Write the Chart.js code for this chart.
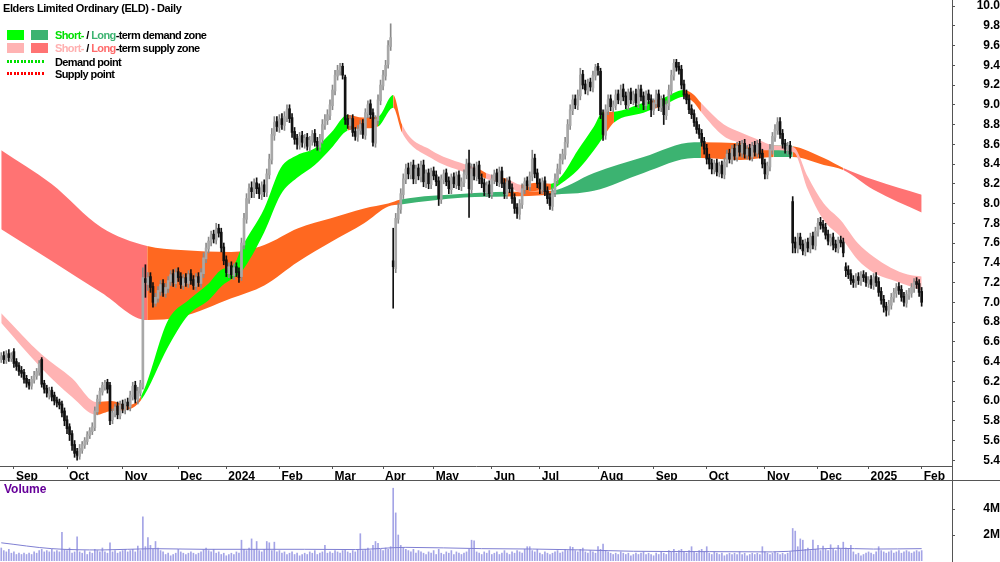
<!DOCTYPE html>
<html>
<head>
<meta charset="utf-8">
<script src="https://cdn.jsdelivr.net/npm/chart.js@4.4.1/dist/chart.umd.min.js"></script>
<style>
  body { margin:0; background:#fff; width:1000px; height:562px; overflow:hidden; position:relative;
         font-family:"Liberation Sans", Arial, sans-serif; }
  canvas { position:absolute; left:0; }
  #price { top:0; }
  #vol { top:481px; }
  .txt { position:absolute; font-weight:bold; white-space:nowrap; line-height:12px; color:#000; }
  .lg { font-size:11px; letter-spacing:-0.6px; }
  .sw { position:absolute; width:17px; height:10px; }
  .dots { position:absolute; width:38px; height:3px; }
</style>
</head>
<body>
<canvas id="price" width="1000" height="481"></canvas>
<canvas id="vol" width="1000" height="81"></canvas>

<div class="txt" style="left:3px;top:2px;font-size:11px;letter-spacing:-0.4px">Elders Limited Ordinary (ELD) - Daily</div>

<div class="sw" style="left:7px;top:30px;background:#00ff00"></div>
<div class="sw" style="left:31px;top:30px;background:#3cb371"></div>
<div class="txt lg" style="left:55px;top:29px"><span style="color:#00e000">Short-</span> / <span style="color:#3cb371">Long</span>-term demand zone</div>

<div class="sw" style="left:7px;top:43px;background:#ffb3b3"></div>
<div class="sw" style="left:31px;top:43px;background:#ff7373"></div>
<div class="txt lg" style="left:55px;top:42px"><span style="color:#ffb0b0">Short-</span> / <span style="color:#ff6a6a">Long</span>-term supply zone</div>

<div class="dots" style="left:7px;top:60px;background:repeating-linear-gradient(to right,#00e000 0 2px,transparent 2px 3.5px)"></div>
<div class="txt lg" style="left:55px;top:56px">Demand point</div>
<div class="dots" style="left:7px;top:72px;background:repeating-linear-gradient(to right,#ff0000 0 2px,transparent 2px 3.5px)"></div>
<div class="txt lg" style="left:55px;top:68px">Supply point</div>

<div class="txt" style="left:4px;top:483px;font-size:12px;color:#660099">Volume</div>

<script>
// === Datas (um candle por pregão, 25 ago 2023 .. 3 fev 2025) ===
var monthStarts = [5, 26, 48, 70, 89, 110, 131, 151, 171, 194, 213, 236, 258, 279, 302, 323, 343, 364];
var monthLabels = ['Sep','Oct','Nov','Dec','2024','Feb','Mar','Apr','May','Jun','Jul','Aug','Sep','Oct','Nov','Dec','2025','Feb'];

var priceTicks = [5.4,5.6,5.8,6.0,6.2,6.4,6.6,6.8,7.0,7.2,7.4,7.6,7.8,8.0,8.2,8.4,8.6,8.8,9.0,9.2,9.4,9.6,9.8,10.0];
var volTicks = [2, 4];

// === OHLC ===
var opens = [
  6.42,6.46,6.41,6.48,6.43,6.50,6.40,6.36,6.31,6.29,
  6.23,6.19,6.15,6.21,6.25,6.29,6.42,6.18,6.13,6.06,
  6.11,6.06,6.01,5.99,5.97,5.90,5.81,5.74,5.67,5.56,
  5.49,5.44,5.50,5.55,5.59,5.65,5.69,5.73,5.89,6.00,
  6.09,6.14,6.19,6.16,5.81,5.87,5.95,5.85,5.97,5.91,
  5.99,5.94,6.04,6.16,6.01,6.08,6.14,7.24,7.18,7.26,
  7.16,6.99,7.04,7.11,7.19,7.09,7.14,7.21,7.29,7.19,
  7.31,7.26,7.17,7.25,7.19,7.29,7.23,7.16,7.26,7.19,
  7.29,7.44,7.54,7.61,7.69,7.63,7.75,7.71,7.56,7.43,
  7.29,7.37,7.27,7.36,7.31,7.26,7.58,7.84,8.04,8.16,
  8.11,8.21,8.16,8.09,8.19,8.11,8.29,8.44,8.69,8.83,
  8.77,8.86,8.79,8.87,8.96,8.87,8.73,8.66,8.59,8.69,
  8.61,8.67,8.57,8.63,8.71,8.63,8.57,8.65,8.79,8.84,
  8.89,8.99,9.14,9.29,9.34,9.39,9.28,8.86,8.79,8.86,
  8.73,8.67,8.74,8.81,8.69,8.91,9.01,8.92,8.61,8.84,
  9.04,9.19,9.29,9.41,9.59,7.42,7.34,7.84,7.94,8.09,
  8.24,8.36,8.29,8.39,8.24,8.36,8.27,8.39,8.21,8.31,
  8.19,8.33,8.29,8.23,8.04,8.24,8.31,8.23,8.14,8.27,
  8.19,8.29,8.17,8.21,8.29,8.41,8.14,8.36,8.27,8.39,
  8.26,8.21,8.11,8.19,8.09,8.24,8.31,8.21,8.33,8.21,
  8.09,8.23,8.16,8.06,7.96,7.89,7.99,8.14,8.23,8.17,
  8.27,8.46,8.31,8.21,8.14,8.23,8.13,8.06,7.97,8.11,
  8.24,8.34,8.44,8.49,8.61,8.79,8.94,9.06,8.99,9.09,
  9.31,9.21,9.14,9.23,9.17,9.29,9.39,9.34,8.91,8.69,
  8.94,9.06,8.97,8.99,9.11,9.04,9.16,9.09,8.99,9.13,
  9.04,9.11,9.01,9.16,9.09,8.99,9.11,9.06,8.94,9.01,
  9.11,8.97,9.06,8.89,8.99,9.14,9.29,9.43,9.39,9.36,
  9.21,9.11,9.06,8.96,8.91,8.83,8.76,8.71,8.63,8.56,
  8.46,8.41,8.34,8.41,8.31,8.39,8.29,8.41,8.51,8.44,
  8.56,8.47,8.59,8.51,8.61,8.49,8.56,8.47,8.59,8.51,
  8.61,8.51,8.41,8.29,8.37,8.54,8.67,8.74,8.83,8.71,
  8.61,8.54,8.59,8.02,7.61,7.54,7.66,7.59,7.51,7.61,
  7.54,7.67,7.57,7.71,7.81,7.79,7.76,7.69,7.61,7.66,
  7.59,7.54,7.63,7.61,7.36,7.33,7.29,7.23,7.19,7.26,
  7.21,7.28,7.26,7.19,7.23,7.17,7.26,7.21,7.11,7.03,
  6.96,6.91,6.97,7.04,7.09,7.16,7.13,7.06,6.99,7.07,
  7.09,7.14,7.21,7.19,7.11
];
var highs = [
  6.49,6.50,6.51,6.52,6.49,6.53,6.43,6.39,6.35,6.32,
  6.26,6.22,6.25,6.30,6.33,6.41,6.44,6.21,6.16,6.14,
  6.14,6.09,6.04,6.02,6.00,5.93,5.85,5.77,5.70,5.60,
  5.52,5.56,5.59,5.63,5.69,5.73,5.78,5.94,6.06,6.13,
  6.19,6.21,6.22,6.19,5.92,5.97,5.99,6.00,6.01,6.02,
  6.03,6.10,6.19,6.20,6.14,6.21,7.35,7.38,7.30,7.30,
  7.20,7.09,7.16,7.22,7.23,7.19,7.26,7.32,7.33,7.34,
  7.35,7.30,7.28,7.29,7.32,7.33,7.27,7.29,7.30,7.34,
  7.50,7.60,7.66,7.72,7.73,7.80,7.79,7.75,7.60,7.47,
  7.40,7.41,7.39,7.40,7.35,7.65,7.90,8.10,8.20,8.22,
  8.25,8.26,8.20,8.22,8.24,8.35,8.50,8.76,8.88,8.88,
  8.90,8.91,8.93,9.00,9.00,8.91,8.77,8.70,8.72,8.73,
  8.70,8.71,8.68,8.74,8.75,8.67,8.70,8.85,8.90,8.95,
  9.05,9.20,9.35,9.40,9.42,9.42,9.30,8.90,8.89,8.90,
  8.77,8.79,8.84,8.85,8.96,9.04,9.05,8.96,8.89,9.10,
  9.25,9.35,9.45,9.65,9.82,7.75,7.90,8.00,8.15,8.30,
  8.40,8.41,8.42,8.44,8.39,8.40,8.43,8.44,8.34,8.35,
  8.36,8.37,8.33,8.27,8.29,8.34,8.35,8.27,8.30,8.31,
  8.32,8.33,8.26,8.34,8.45,8.54,8.40,8.40,8.42,8.43,
  8.30,8.25,8.22,8.23,8.29,8.34,8.35,8.37,8.37,8.25,
  8.26,8.27,8.20,8.10,8.00,8.04,8.20,8.26,8.27,8.32,
  8.54,8.50,8.35,8.25,8.26,8.27,8.17,8.10,8.16,8.30,
  8.40,8.50,8.55,8.67,8.85,9.00,9.10,9.10,9.15,9.37,
  9.35,9.25,9.26,9.27,9.34,9.41,9.42,9.37,8.95,9.00,
  9.10,9.10,9.04,9.15,9.15,9.20,9.21,9.13,9.16,9.17,
  9.14,9.16,9.20,9.20,9.13,9.14,9.15,9.10,9.06,9.15,
  9.15,9.09,9.10,9.04,9.20,9.35,9.46,9.46,9.43,9.40,
  9.25,9.15,9.10,9.00,8.95,8.87,8.80,8.75,8.67,8.60,
  8.50,8.45,8.44,8.45,8.42,8.43,8.46,8.54,8.55,8.59,
  8.60,8.62,8.63,8.64,8.65,8.59,8.60,8.62,8.63,8.64,
  8.65,8.55,8.45,8.42,8.60,8.72,8.80,8.87,8.87,8.75,
  8.65,8.62,8.63,8.07,7.66,7.70,7.70,7.63,7.64,7.65,
  7.70,7.71,7.76,7.85,7.86,7.83,7.80,7.73,7.69,7.70,
  7.63,7.66,7.67,7.65,7.40,7.37,7.33,7.27,7.29,7.30,
  7.31,7.32,7.30,7.26,7.27,7.29,7.30,7.25,7.15,7.07,
  7.00,7.02,7.09,7.14,7.19,7.20,7.17,7.10,7.12,7.14,
  7.19,7.24,7.25,7.23,7.15
];
var lows = [
  6.39,6.38,6.38,6.40,6.40,6.34,6.31,6.26,6.24,6.18,
  6.14,6.12,6.12,6.18,6.22,6.26,6.14,6.08,6.04,6.02,
  6.00,5.96,5.94,5.92,5.84,5.75,5.67,5.60,5.50,5.43,
  5.40,5.41,5.47,5.52,5.56,5.62,5.66,5.70,5.86,5.97,
  6.06,6.11,6.08,5.76,5.77,5.84,5.82,5.82,5.88,5.87,
  5.91,5.90,6.01,5.98,5.97,6.05,6.12,7.05,7.12,7.10,
  6.95,6.96,7.00,7.07,7.06,7.05,7.10,7.17,7.16,7.15,
  7.21,7.14,7.13,7.16,7.15,7.18,7.13,7.12,7.16,7.15,
  7.25,7.40,7.50,7.57,7.60,7.59,7.66,7.51,7.38,7.26,
  7.25,7.24,7.23,7.26,7.20,7.22,7.54,7.80,8.00,8.06,
  8.06,8.10,8.05,8.04,8.07,8.07,8.25,8.40,8.64,8.73,
  8.72,8.75,8.74,8.83,8.82,8.67,8.60,8.55,8.55,8.57,
  8.56,8.54,8.53,8.59,8.58,8.54,8.53,8.61,8.75,8.80,
  8.85,8.95,9.10,9.25,9.30,9.26,8.80,8.76,8.75,8.68,
  8.64,8.63,8.70,8.66,8.65,8.87,8.86,8.58,8.57,8.80,
  9.00,9.15,9.25,9.37,9.55,6.94,7.30,7.80,7.90,8.05,
  8.20,8.25,8.25,8.20,8.20,8.24,8.22,8.17,8.16,8.15,
  8.15,8.24,8.18,7.98,8.00,8.20,8.18,8.10,8.10,8.16,
  8.15,8.14,8.13,8.17,8.25,7.86,8.10,8.24,8.23,8.20,
  8.16,8.08,8.07,8.06,8.05,8.20,8.18,8.17,8.16,8.05,
  8.05,8.11,8.00,7.90,7.85,7.84,7.95,8.10,8.14,8.13,
  8.23,8.26,8.16,8.10,8.10,8.08,8.00,7.94,7.93,8.07,
  8.20,8.30,8.40,8.45,8.57,8.75,8.90,8.96,8.95,9.05,
  9.16,9.11,9.10,9.14,9.13,9.25,9.30,8.86,8.64,8.65,
  8.90,8.94,8.93,8.95,9.01,9.00,9.04,8.96,8.95,9.01,
  9.00,8.98,8.97,9.04,8.95,8.95,9.01,8.88,8.90,8.97,
  8.94,8.93,8.80,8.85,8.95,9.10,9.25,9.34,9.31,9.16,
  9.06,9.01,8.91,8.86,8.78,8.71,8.66,8.58,8.50,8.40,
  8.35,8.30,8.30,8.28,8.27,8.26,8.25,8.37,8.41,8.40,
  8.44,8.43,8.48,8.47,8.46,8.45,8.44,8.43,8.48,8.47,
  8.46,8.36,8.25,8.25,8.33,8.50,8.63,8.70,8.66,8.56,
  8.51,8.50,8.46,7.50,7.50,7.50,7.54,7.48,7.47,7.51,
  7.50,7.54,7.53,7.67,7.74,7.71,7.64,7.58,7.57,7.53,
  7.51,7.50,7.56,7.46,7.26,7.24,7.18,7.15,7.15,7.18,
  7.17,7.21,7.16,7.15,7.14,7.13,7.16,7.06,6.98,6.90,
  6.86,6.87,6.93,7.00,7.05,7.08,7.01,6.96,6.95,7.03,
  7.05,7.10,7.14,7.06,6.96
];
var closes = [
  6.45,6.42,6.47,6.44,6.46,6.38,6.35,6.30,6.28,6.22,
  6.18,6.16,6.22,6.26,6.30,6.38,6.17,6.12,6.08,6.10,
  6.04,6.00,5.98,5.96,5.88,5.80,5.72,5.66,5.55,5.47,
  5.45,5.52,5.56,5.60,5.66,5.70,5.74,5.90,6.02,6.10,
  6.16,6.18,6.12,5.80,5.88,5.94,5.86,5.96,5.92,5.98,
  5.95,6.06,6.15,6.02,6.10,6.18,7.25,7.20,7.25,7.15,
  7.00,7.05,7.12,7.18,7.10,7.15,7.22,7.28,7.20,7.30,
  7.25,7.18,7.24,7.20,7.28,7.22,7.17,7.25,7.20,7.30,
  7.45,7.55,7.62,7.68,7.64,7.74,7.70,7.55,7.42,7.30,
  7.36,7.28,7.35,7.30,7.25,7.60,7.85,8.05,8.15,8.12,
  8.20,8.15,8.10,8.18,8.12,8.30,8.45,8.70,8.82,8.78,
  8.85,8.80,8.88,8.95,8.86,8.72,8.65,8.60,8.68,8.62,
  8.66,8.58,8.64,8.70,8.62,8.58,8.66,8.80,8.85,8.90,
  9.00,9.15,9.30,9.35,9.38,9.30,8.85,8.80,8.85,8.72,
  8.68,8.75,8.80,8.70,8.92,9.00,8.90,8.62,8.85,9.05,
  9.20,9.30,9.40,9.60,9.68,7.36,7.85,7.95,8.10,8.25,
  8.35,8.30,8.38,8.25,8.35,8.28,8.38,8.22,8.30,8.20,
  8.32,8.28,8.22,8.05,8.25,8.30,8.22,8.15,8.26,8.20,
  8.28,8.18,8.22,8.30,8.40,8.15,8.35,8.28,8.38,8.25,
  8.20,8.12,8.18,8.10,8.25,8.30,8.22,8.32,8.20,8.10,
  8.22,8.15,8.05,7.95,7.90,8.00,8.15,8.22,8.18,8.28,
  8.45,8.30,8.20,8.15,8.22,8.12,8.05,7.98,8.12,8.25,
  8.35,8.45,8.50,8.62,8.80,8.95,9.05,9.00,9.10,9.30,
  9.20,9.15,9.22,9.18,9.30,9.38,9.35,8.90,8.70,8.95,
  9.05,8.98,9.00,9.10,9.05,9.15,9.08,9.00,9.12,9.05,
  9.10,9.02,9.15,9.08,9.00,9.10,9.05,8.95,9.02,9.10,
  8.98,9.05,8.90,9.00,9.15,9.30,9.42,9.38,9.35,9.20,
  9.10,9.05,8.95,8.90,8.82,8.75,8.70,8.62,8.55,8.45,
  8.40,8.35,8.40,8.32,8.38,8.30,8.42,8.50,8.45,8.55,
  8.48,8.58,8.52,8.60,8.50,8.55,8.48,8.58,8.52,8.60,
  8.50,8.40,8.30,8.38,8.55,8.68,8.75,8.82,8.70,8.60,
  8.55,8.58,8.50,7.60,7.55,7.65,7.58,7.52,7.60,7.55,
  7.66,7.58,7.72,7.80,7.78,7.75,7.68,7.62,7.65,7.58,
  7.55,7.62,7.60,7.50,7.32,7.28,7.22,7.20,7.25,7.22,
  7.27,7.25,7.20,7.22,7.18,7.25,7.20,7.10,7.02,6.95,
  6.92,6.98,7.05,7.10,7.15,7.12,7.05,7.00,7.08,7.10,
  7.15,7.20,7.18,7.10,7.00
];

// === Volume (milhões) ===
var volumes = [
  1.0,0.8,0.7,0.9,0.6,0.7,0.5,0.6,0.5,0.6,
  0.5,0.6,0.5,0.7,0.6,0.8,0.9,0.7,0.8,0.7,
  0.9,0.7,0.8,0.7,2.2,0.9,0.8,1.0,0.6,0.7,
  1.85,0.7,0.6,0.8,0.5,0.7,0.6,0.9,0.8,0.7,
  1.0,0.7,0.6,1.4,0.7,0.8,0.6,0.7,0.8,0.9,
  0.7,0.8,0.9,0.7,1.15,0.8,3.4,1.1,1.8,1.2,
  0.9,1.5,1.0,0.8,0.7,0.5,0.6,0.4,0.5,0.6,
  0.9,0.7,0.6,0.5,0.6,0.7,0.6,0.5,0.6,0.7,
  0.9,1.0,0.8,0.7,0.9,0.6,0.7,0.5,0.6,0.4,
  0.5,0.6,0.5,0.7,0.6,1.6,0.9,0.8,1.0,1.7,
  0.9,1.5,0.8,0.7,0.9,1.5,1.4,0.8,1.45,0.7,
  0.8,0.6,0.7,0.5,0.6,0.7,0.5,0.6,0.4,0.5,
  0.6,0.5,0.7,0.6,0.8,0.5,0.6,0.7,1.2,0.6,
  0.7,0.6,0.8,0.7,0.6,0.8,0.9,0.7,0.6,0.8,
  0.7,0.9,2.1,0.8,0.9,1.0,0.8,1.2,1.5,1.35,
  0.9,0.8,1.0,0.9,1.1,5.6,3.7,2.0,1.2,1.0,
  0.9,0.8,0.7,0.9,0.6,0.8,0.7,0.6,0.5,0.7,
  0.6,0.8,0.5,0.9,0.6,0.5,0.7,0.6,0.8,0.5,
  0.7,0.6,0.5,0.6,0.7,0.9,1.6,1.55,0.7,0.6,
  0.5,0.7,0.6,0.8,0.5,0.6,0.7,0.5,0.6,0.8,
  0.6,0.5,0.7,0.6,0.8,0.7,0.6,0.9,1.1,1.1,
  0.8,0.7,0.9,0.6,0.5,0.7,0.6,0.5,0.6,0.7,
  0.8,0.6,0.7,0.9,0.8,1.1,1.05,0.8,0.7,0.9,
  1.0,0.7,0.6,0.8,0.7,0.6,1.1,0.9,1.3,0.8,
  0.7,0.6,0.5,0.6,0.5,0.7,0.6,0.5,0.6,0.4,
  0.5,0.6,0.5,0.6,0.7,0.5,0.6,0.5,0.4,0.6,
  0.5,0.7,0.6,0.5,0.8,0.7,0.9,0.6,0.8,0.9,
  0.7,0.6,0.8,1.1,0.7,0.6,0.8,0.9,0.7,1.1,
  0.6,0.5,0.7,0.6,0.5,0.6,0.4,0.5,0.6,0.5,
  0.6,0.5,0.7,0.5,0.6,0.4,0.5,0.6,0.5,0.6,
  0.5,1.1,0.7,0.6,0.5,0.6,0.7,0.6,0.5,0.6,
  0.5,0.6,0.7,2.5,2.3,1.1,1.7,1.6,0.9,1.0,
  0.8,1.6,0.9,1.2,0.8,1.15,0.9,0.8,1.25,0.9,
  0.8,1.2,0.9,1.45,1.0,0.9,1.2,0.7,0.5,0.6,
  0.4,0.5,0.6,0.7,0.6,0.5,0.7,1.1,0.8,0.7,
  0.6,0.7,0.8,0.6,0.7,0.8,0.6,0.7,0.8,0.7,
  0.6,0.7,0.8,0.7,0.8
];
var volMaX = [0, 20, 40, 60, 80, 120, 140, 160, 190, 210, 230, 250, 280, 305, 330, 345, 364];
var volMa  = [1.4, 0.95, 0.85, 0.95, 0.9, 0.9, 0.88, 1.05, 0.95, 0.92, 0.85, 0.75, 0.72, 0.7, 0.98, 0.92, 0.95];

// === Zona de curto prazo (S = oferta, D = demanda, N = neutra) ===
var shortX = [0,16,28,37.5,43.5,49.5,55.3,66,74,82,87,92,95,104,110.5,117,124,130.5,137,143,149,155,158.5,170,183,189,191.7,197.6,200,205.5,212,217.4,221.3,228,234.4,238,242.3,254,257,261,270,274,276.7,285.8,292.5,299,305.5,313.4,319,325.3,332,338.7,345,351.8,358.5,364];
var shortTop = [6.89,6.47,6.23,5.99,6.00,5.96,6.05,6.82,7.02,7.19,7.33,7.38,7.55,7.95,8.36,8.49,8.56,8.72,8.90,8.87,8.88,9.10,8.80,8.54,8.40,8.35,8.31,8.27,8.25,8.19,8.21,8.20,8.27,8.54,8.78,8.93,8.93,9.02,9.04,9.06,9.15,9.10,9.02,8.80,8.72,8.65,8.59,8.57,8.27,8.00,7.83,7.60,7.46,7.35,7.28,7.26];
var shortBot = [6.79,6.33,6.04,5.86,5.90,5.91,6.01,6.55,6.87,7.02,7.16,7.25,7.31,7.71,8.09,8.26,8.39,8.56,8.74,8.76,8.78,8.97,8.72,8.46,8.32,8.28,8.25,8.21,8.19,8.11,8.13,8.14,8.20,8.34,8.54,8.67,8.82,8.92,8.95,8.98,9.08,9.02,8.93,8.68,8.61,8.54,8.54,8.52,8.14,7.83,7.66,7.43,7.30,7.23,7.17,7.12];
var shortZone = ['S','S','S','N','N','N','D','D','D','D','D','D','D','D','D','D','D','D','N','N','D','N','S','S','S','N','S','N','S','N','N','D','D','D','D','N','D','D','N','D','N','N','S','S','S','S','S','S','S','S','S','S','S','S','S','S'];

// === Zona de longo prazo ===
var longX = [0,19.8,39.5,57.7,71,91,104,117.4,130.4,143.5,153,158,183,200,217.4,234.4,254,274,276.7,292.5,305.5,313,325.3,333,345,364];
var longTop = [8.54,8.20,7.76,7.57,7.53,7.51,7.58,7.75,7.85,7.95,8.00,8.04,8.10,8.12,8.13,8.31,8.47,8.62,8.62,8.61,8.59,8.58,8.46,8.36,8.24,8.09];
var longBot = [7.74,7.42,7.10,6.82,6.85,7.04,7.17,7.41,7.61,7.80,7.97,7.99,8.06,8.07,8.09,8.13,8.31,8.46,8.46,8.44,8.47,8.47,8.39,8.34,8.14,7.91];
var longZone = ['R','R','R','N','N','N','N','N','N','N','N','G','G','N','G','G','G','G','N','N','G','N','N','R','R','R'];

var shortColors = { S:'#ffb3b3', D:'#00ff00', N:'#ff6820' };
var longColors = { R:'#ff7373', G:'#3cb371', N:'#ff6820' };

var fonte = { family:'"Liberation Sans", Arial, sans-serif', size:12, weight:'bold' };
var corEixo = '#555';

function pontos(xs, ys) {
  return xs.map(function (x, k) { return { x: x, y: ys[k] }; });
}

var wicks = closes.map(function (c, i) { return { x: i, y: [lows[i], highs[i]] }; });
var bodies = closes.map(function (c, i) { return { x: i, y: [opens[i], c] }; });
var up = closes.map(function (c, i) { return c >= opens[i]; });

var linhaBase = { type:'line', pointRadius:0, borderWidth:0, borderColor:'rgba(0,0,0,0)', cubicInterpolationMode:'monotone' };

// linhas de moldura que o Chart.js não desenha
var moldura = {
  id: 'moldura',
  afterDraw: function (chart) {
    var ctx = chart.ctx;
    ctx.save();
    ctx.strokeStyle = corEixo;
    ctx.lineWidth = 1;
    ctx.beginPath();
    ctx.moveTo(0, 480.5); ctx.lineTo(1000, 480.5);
    ctx.moveTo(952.5, chart.chartArea.bottom); ctx.lineTo(952.5, 481);
    ctx.stroke();
    ctx.restore();
  }
};

// === GRÁFICO DE PREÇO ===
new Chart(document.getElementById('price'), {
  type: 'bar',
  data: {
    datasets: [
      { type:'bar', data: bodies, order:1, grouped:false, barThickness:2, minBarLength:1,
        backgroundColor: up.map(function (u) { return u ? '#a8a8a8' : '#111'; }),
        borderWidth:0 },
      { type:'bar', data: wicks, order:2, grouped:false, barThickness:1,
        backgroundColor: up.map(function (u) { return u ? '#8a8a8a' : '#111'; }) },
      Object.assign({}, linhaBase, { data: pontos(shortX, shortTop), order:3, fill:false }),
      Object.assign({}, linhaBase, { data: pontos(shortX, shortBot), order:3, fill:2,
        backgroundColor:'#ffb3b3',
        segment: { backgroundColor: function (c) { return shortColors[shortZone[c.p0DataIndex]]; } } }),
      Object.assign({}, linhaBase, { data: pontos(longX, longTop), order:4, fill:false }),
      Object.assign({}, linhaBase, { data: pontos(longX, longBot), order:4, fill:4,
        backgroundColor:'#ff7373',
        segment: { backgroundColor: function (c) { return longColors[longZone[c.p0DataIndex]]; } } })
    ]
  },
  options: {
    responsive:false,
    animation:false,
    events:[],
    layout:{ padding:0 },
    plugins:{ legend:{ display:false }, tooltip:{ enabled:false } },
    scales:{
      x:{
        type:'linear', min:-0.5, max:376, offset:false, position:'bottom',
        afterBuildTicks: function (s) { s.ticks = monthStarts.map(function (v) { return { value: v }; }); },
        afterFit: function (s) { s.height = 15; s.paddingLeft = 0; s.paddingRight = 0; },
        ticks:{ autoSkip:false, maxRotation:0, align:'start', labelOffset:2, padding:0, color:'#000', font:fonte,
                callback: function (v, idx) { return monthLabels[idx]; } },
        grid:{ drawOnChartArea:false, tickLength:3, color:corEixo, offset:false },
        border:{ color:corEixo }
      },
      y:{
        position:'right', min:5.342, max:10.061,
        afterBuildTicks: function (s) { s.ticks = priceTicks.map(function (v) { return { value: v }; }); },
        afterFit: function (s) { s.width = 48; s.paddingTop = 0; s.paddingBottom = 0; },
        ticks:{ crossAlign:'far', padding:16, color:'#000', font:fonte,
                callback: function (v) { return v.toFixed(1); } },
        grid:{ drawOnChartArea:false, tickLength:3, color:corEixo },
        border:{ color:corEixo }
      }
    }
  },
  plugins:[moldura]
});

// === GRÁFICO DE VOLUME ===
new Chart(document.getElementById('vol'), {
  type: 'bar',
  data: {
    datasets: [
      { type:'line', data: pontos(volMaX, volMa), order:0, pointRadius:0, borderWidth:1,
        borderColor:'#7f7fd2', cubicInterpolationMode:'monotone' },
      { type:'bar', data: volumes.map(function (v, i) { return { x: i, y: v }; }), order:1,
        barThickness:1, backgroundColor:'#a4a4e6' }
    ]
  },
  options: {
    responsive:false,
    animation:false,
    events:[],
    layout:{ padding:{ bottom:1 } },
    plugins:{ legend:{ display:false }, tooltip:{ enabled:false } },
    scales:{
      x:{ type:'linear', display:false, min:-0.5, max:376, offset:false },
      y:{
        position:'right', min:0, max:6.154,
        afterBuildTicks: function (s) { s.ticks = volTicks.map(function (v) { return { value: v }; }); },
        afterFit: function (s) { s.width = 48; s.paddingTop = 0; s.paddingBottom = 0; },
        ticks:{ crossAlign:'far', padding:22, color:'#000', font:fonte,
                callback: function (v) { return v + 'M'; } },
        grid:{ drawOnChartArea:false, tickLength:3, color:corEixo },
        border:{ color:corEixo }
      }
    }
  }
});
</script>
</body>
</html>
